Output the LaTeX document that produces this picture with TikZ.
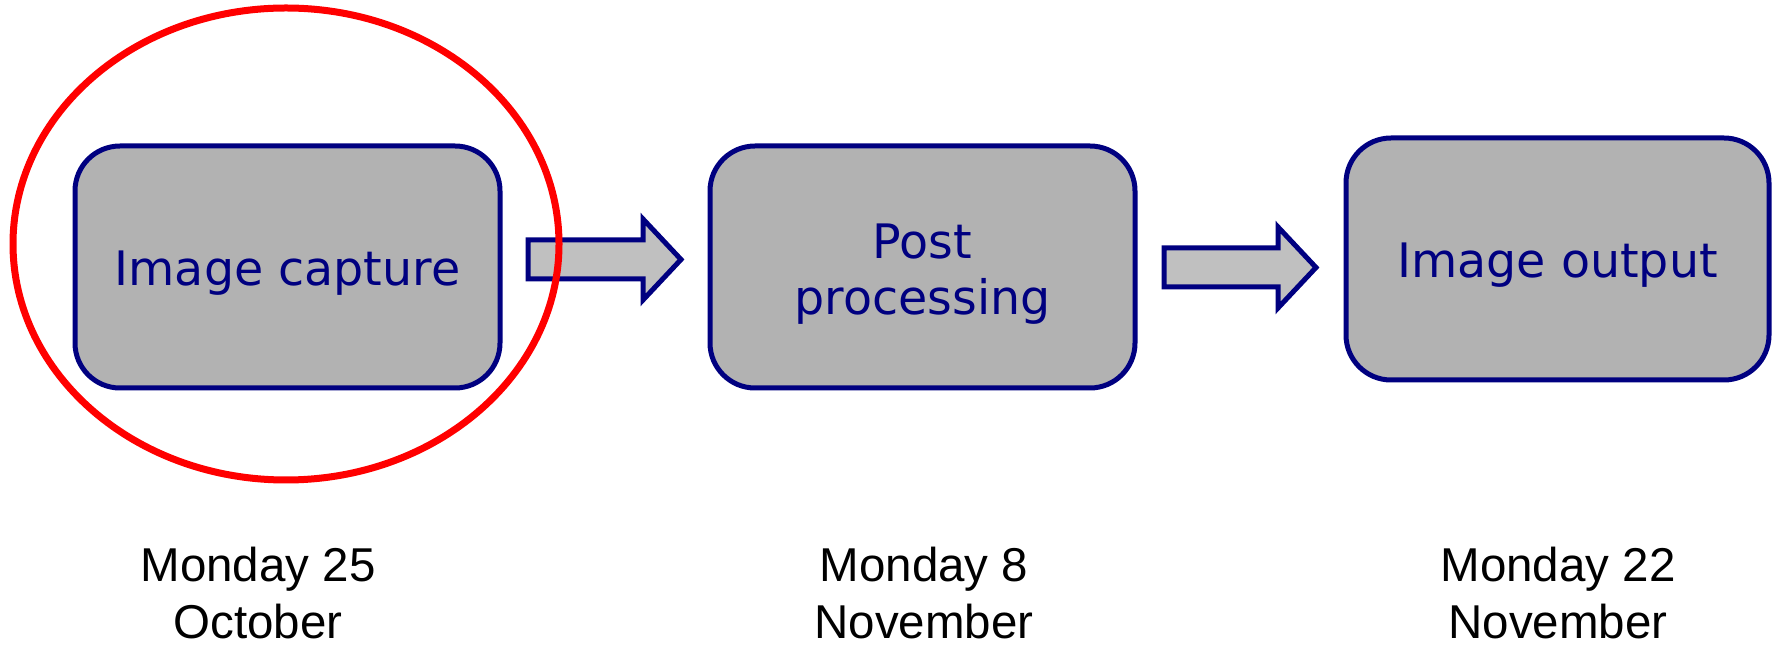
\documentclass[tikz,border=0pt]{standalone}
\usepackage{fontspec}
\setmainfont{Liberation Sans}
\newfontfamily\boxfont{DejaVu Sans}
\definecolor{navyline}{RGB}{0,0,128}
\definecolor{boxgray}{RGB}{178,178,178}
\definecolor{arrowgray}{RGB}{192,192,192}
\definecolor{ringred}{RGB}{255,0,0}
\newcommand{\boxline}[1]{\raisebox{-19pt}[0pt][0pt]{#1}}
\newcommand{\boxtwolines}[2]{\raisebox{-48pt}[0pt][0pt]{\begin{tabular}[b]{@{}c@{}}#1\\#2\end{tabular}}}
\begin{document}
\begin{tikzpicture}[x=1pt,y=1pt,
  stagebox/.style={draw=navyline, fill=boxgray, line width=5pt, rounded corners=45pt,
    minimum width=425pt, minimum height=242pt, inner sep=0pt,
    text=navyline, font=\boxfont\fontsize{47.5}{56}\selectfont},
  blockarrow/.style={draw=navyline, fill=arrowgray, line width=5pt, line join=miter},
  datelabel/.style={anchor=north, inner sep=0pt, align=center, text=black,
    font=\fontsize{47.5}{57}\selectfont},
  ring/.style={draw=ringred, line width=7pt}]
\useasboundingbox (0,0) rectangle (1777,645);
\node[stagebox] (cap) at (287.5,378) {\boxline{Image capture}};
\node[stagebox] (post) at (922.5,378) {\boxtwolines{Post}{processing}};
\node[stagebox, minimum width=423pt] (out) at (1557.5,386) {\boxline{Image output}};
\draw[blockarrow] (528,405) -- (643,405) -- (643,426) -- (681,385.5) -- (643,345) -- (643,366) -- (528,366) -- cycle;
\draw[blockarrow] (1164,397) -- (1278,397) -- (1278,418) -- (1316,377.5) -- (1278,337) -- (1278,358) -- (1164,358) -- cycle;
\draw[ring] (286,401) ellipse [x radius=273, y radius=236];
\node[datelabel] (d1) at (258,98.5) {Monday 25\\October};
\node[datelabel] (d2) at (924,98.5) {Monday 8\\November};
\node[datelabel] (d3) at (1558,98.5) {Monday 22\\November};
\end{tikzpicture}
\end{document}
